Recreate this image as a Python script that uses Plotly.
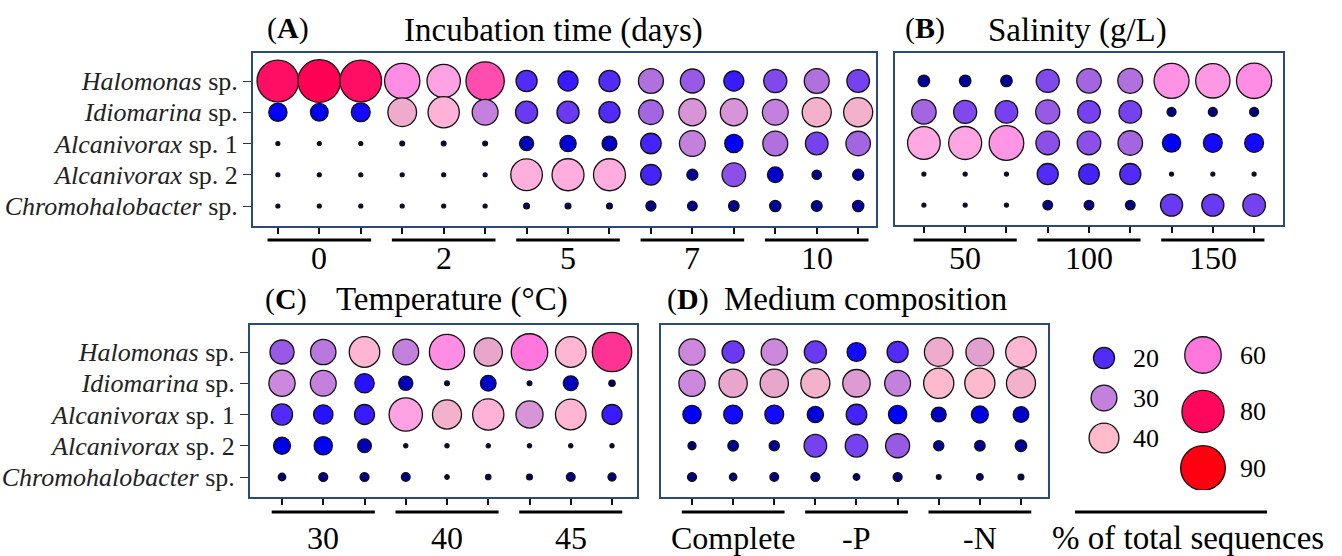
import plotly.graph_objects as go

# ---------------- data ----------------
species = ["<i>Halomonas</i> sp.", "<i>Idiomarina</i> sp.", "<i>Alcanivorax</i> sp. 1",
           "<i>Alcanivorax</i> sp. 2", "<i>Chromohalobacter</i> sp."]

incubation_groups = ["0", "2", "5", "7", "10"]
salinity_groups = ["50", "100", "150"]
temperature_groups = ["30", "40", "45"]
medium_groups = ["Complete", "-P", "-N"]
replicates = 3

# % of total sequences (rows = species, columns = replicate samples)
incubation_values = [
    [78, 82, 78, 56, 50, 66, 20, 18, 20, 28, 26, 18, 24, 28, 23],
    [15, 14, 16, 37, 44, 30, 22, 22, 20, 27, 33, 33, 30, 38, 38],
    [0.7, 0.7, 0.7, 1.0, 1.0, 1.0, 9, 12, 10, 19, 30, 15, 28, 23, 27],
    [0.7, 0.7, 0.7, 0.7, 0.7, 0.7, 45, 46, 46, 19, 5.5, 25, 11, 4, 5.5],
    [0.7, 0.7, 0.7, 0.7, 0.7, 0.7, 1.5, 1.5, 1.5, 4.5, 4.2, 5, 5.7, 5.3, 5.7],
]
salinity_values = [
    [6, 6, 6, 24, 27, 28, 55, 53, 56],
    [27, 24, 23, 26, 23, 23, 3.6, 3.6, 3.6],
    [48, 49, 54, 25, 25, 27, 15, 16, 16],
    [0.7, 0.7, 0.7, 20, 19, 20, 0.7, 0.7, 0.7],
    [0.7, 0.7, 0.7, 4.2, 4.2, 4.2, 22, 22, 23],
]
temperature_values = [
    [26, 29, 42, 30, 56, 36, 60, 42, 70],
    [31, 30, 17, 9, 1, 11, 1, 10, 1.8],
    [20, 17, 18, 50, 38, 44, 33, 42, 18],
    [13, 15, 8.5, 0.8, 0.8, 0.8, 0.8, 0.8, 0.8],
    [2.5, 3.6, 3.6, 3.4, 0.9, 1.3, 1.5, 3.4, 2.9],
]
medium_values = [
    [31, 22, 31, 22, 16, 20, 37, 35, 42],
    [31, 36, 36, 38, 34, 30, 41, 41, 38],
    [15, 16, 16, 12, 19, 15, 10, 13, 11],
    [2.9, 5, 4.7, 23, 23, 26, 4.7, 5, 6],
    [3.6, 2.5, 3.4, 3.6, 1.9, 3.6, 1, 2, 1.5],
]
legend_values_left = [20, 30, 40]
legend_values_right = [60, 80, 90]
legend_title = "% of total sequences"

# ---------------- styles ----------------
W, H = 1342, 556
SERIF = "Liberation Serif, Times New Roman, serif"
FRAME = "#2a4a7c"
VMAX = 90
stops = [(0, "#00005A"), (6, "#0000A0"), (11, "#0000CC"), (15, "#0000FF"), (18, "#3A1BFF"),
         (21, "#5F33F5"), (25, "#8C4FE8"), (28, "#B070DD"), (31, "#CC88DD"), (36, "#E8A6CC"),
         (40, "#FFBBCC"), (48, "#FFA8E4"), (55, "#FF92E4"), (60, "#FF77DD"), (68, "#FF3FA0"),
         (75, "#FF1870"), (82, "#FF0055"), (90, "#FF0010")]
colorscale = [[v / VMAX, c] for v, c in stops]
SIZEREF = 0.09


def px_x(x):
    return x / W


def px_y(y):
    return 1 - y / H


def marker(vals):
    return dict(size=vals, sizemode="area", sizeref=SIZEREF, sizemin=1.5,
                color=vals, cmin=0, cmax=VMAX, colorscale=colorscale, showscale=False,
                line=dict(color="#111111", width=1.3), opacity=1)


panels = [
    dict(vals=incubation_values, groups=incubation_groups, box=(253, 53, 876, 226),
         xr=[0.4, 15.43], yr=[4.64, -0.896], ylab=True, letter="A", title="Incubation time (days)",
         letter_xy=(288, 28), title_xy=(553, 30), line_y=240, lab_y=258),
    dict(vals=salinity_values, groups=salinity_groups, box=(895, 53, 1283, 225),
         xr=[0.30, 9.70], yr=[4.64, -0.896], ylab=False, letter="B", title="Salinity (g/L)",
         letter_xy=(925, 28), title_xy=(1077, 30), line_y=240, lab_y=258),
    dict(vals=temperature_values, groups=temperature_groups, box=(250, 325, 637, 497),
         xr=[0.224, 9.606], yr=[4.64, -0.864], ylab=True, letter="C", title="Temperature (°C)",
         letter_xy=(286, 299), title_xy=(452, 299), line_y=512, lab_y=538),
    dict(vals=medium_values, groups=medium_groups, box=(661, 325, 1048, 497),
         xr=[0.246, 9.657], yr=[4.64, -0.864], ylab=False, letter="D", title="Medium composition",
         letter_xy=(688, 299), title_xy=(865, 299), line_y=512, lab_y=538),
]

fig = go.Figure()
annotations = []
shapes = []

for i, p in enumerate(panels, start=1):
    sfx = "" if i == 1 else str(i)
    xs, ys, vs = [], [], []
    for r, row in enumerate(p["vals"]):
        for c, v in enumerate(row):
            xs.append(c + 1)
            ys.append(r)
            vs.append(v)
    fig.add_trace(go.Scatter(x=xs, y=ys, mode="markers", marker=marker(vs),
                             xaxis="x" + sfx, yaxis="y" + sfx, showlegend=False,
                             hoverinfo="skip"))
    x0, y0, x1, y1 = p["box"]
    ncol = len(p["vals"][0])
    fig.update_layout(**{
        "xaxis" + sfx: dict(domain=[px_x(x0), px_x(x1)], range=p["xr"], anchor="y" + sfx,
                            showgrid=False, zeroline=False, showline=True, mirror=True,
                            linecolor=FRAME, linewidth=2, ticks="outside", ticklen=6,
                            tickwidth=1.5, tickcolor="#111", tickvals=list(range(1, ncol + 1)),
                            showticklabels=False, fixedrange=True),
        "yaxis" + sfx: dict(domain=[px_y(y1), px_y(y0)], range=p["yr"], anchor="x" + sfx,
                            showgrid=False, zeroline=False, showline=True, mirror=True,
                            linecolor=FRAME, linewidth=2,
                            ticks="outside" if p["ylab"] else "", ticklen=8, tickwidth=1.2,
                            tickcolor="#333", tickvals=list(range(len(species))),
                            ticktext=species, showticklabels=p["ylab"],
                            tickfont=dict(family=SERIF, size=26, color="#222"), fixedrange=True),
    })
    # group lines and labels
    for g, name in enumerate(p["groups"]):
        first = g * replicates + 1
        last = first + replicates - 1
        shapes.append(dict(type="line", xref="x" + sfx, yref="paper",
                           x0=first - 0.25, x1=last + 0.25,
                           y0=px_y(p["line_y"]), y1=px_y(p["line_y"]),
                           line=dict(color="#000", width=3)))
        annotations.append(dict(xref="x" + sfx, yref="paper", x=(first + last) / 2,
                                y=px_y(p["lab_y"]), text=name, showarrow=False,
                                xanchor="center", yanchor="middle",
                                font=dict(family=SERIF, size=32, color="#000")))
    annotations.append(dict(xref="paper", yref="paper", x=px_x(p["letter_xy"][0]),
                            y=px_y(p["letter_xy"][1]), text="(<b>%s</b>)" % p["letter"],
                            showarrow=False, xanchor="center", yanchor="middle",
                            font=dict(family=SERIF, size=30, color="#000")))
    annotations.append(dict(xref="paper", yref="paper", x=px_x(p["title_xy"][0]),
                            y=px_y(p["title_xy"][1]), text=p["title"], showarrow=False,
                            xanchor="center", yanchor="middle",
                            font=dict(family=SERIF, size=33, color="#000")))

# ---------------- size legend ----------------
# legend axis: 1 unit = 1 px, origin at (1080, 330)
LX0, LY0, LW, LH = 1080, 330, 200, 160
left_pos = [(24, 28 + 40 * k) for k in range(len(legend_values_left))]
right_pos = [(123, 25 + 56.5 * k) for k in range(len(legend_values_right))]
lx = [p[0] for p in left_pos] + [p[0] for p in right_pos]
ly = [p[1] for p in left_pos] + [p[1] for p in right_pos]
lv = legend_values_left + legend_values_right
fig.add_trace(go.Scatter(x=lx, y=ly, mode="markers", marker=marker(lv), xaxis="x5",
                         yaxis="y5", showlegend=False, hoverinfo="skip"))
fig.update_layout(
    xaxis5=dict(domain=[px_x(LX0), px_x(LX0 + LW)], range=[0, LW], visible=False, anchor="y5",
                fixedrange=True),
    yaxis5=dict(domain=[px_y(LY0 + LH), px_y(LY0)], range=[LH, 0], visible=False, anchor="x5",
                fixedrange=True),
)
for (x, y), v in zip(left_pos, legend_values_left):
    annotations.append(dict(xref="x5", yref="y5", x=x + 27, y=y, text=str(v), showarrow=False,
                            xanchor="left", yanchor="middle",
                            font=dict(family=SERIF, size=26, color="#000")))
for (x, y), v in zip(right_pos, legend_values_right):
    annotations.append(dict(xref="x5", yref="y5", x=x + 35, y=y, text=str(v), showarrow=False,
                            xanchor="left", yanchor="middle",
                            font=dict(family=SERIF, size=26, color="#000")))
shapes.append(dict(type="line", xref="paper", yref="paper", x0=px_x(1075), x1=px_x(1267),
                   y0=px_y(512), y1=px_y(512), line=dict(color="#000", width=3)))
annotations.append(dict(xref="paper", yref="paper", x=px_x(1188), y=px_y(538), text=legend_title,
                        showarrow=False, xanchor="center", yanchor="middle",
                        font=dict(family=SERIF, size=33, color="#000")))

fig.update_layout(width=W, height=H, margin=dict(l=0, r=0, t=0, b=0),
                  paper_bgcolor="white", plot_bgcolor="white",
                  annotations=annotations, shapes=shapes, showlegend=False)

fig.write_html("out.html")
